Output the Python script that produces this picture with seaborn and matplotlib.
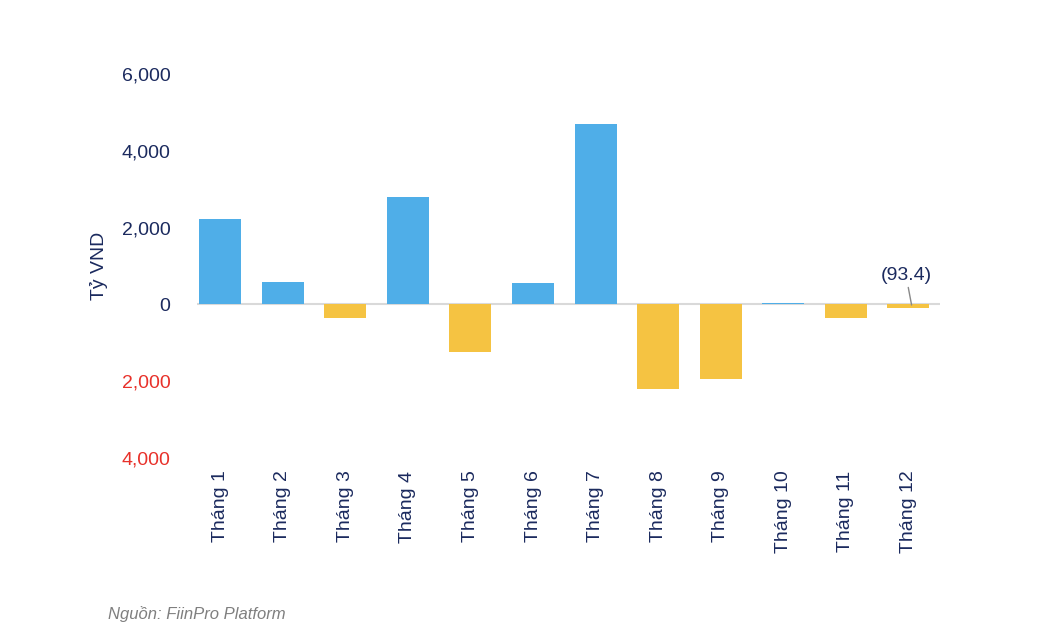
import numpy as np
import pandas as pd
import matplotlib
matplotlib.use("Agg")
import matplotlib.pyplot as plt
import seaborn as sns

# Data (Tỷ VND)
months = ["Tháng 1", "Tháng 2", "Tháng 3", "Tháng 4", "Tháng 5", "Tháng 6",
          "Tháng 7", "Tháng 8", "Tháng 9", "Tháng 10", "Tháng 11", "Tháng 12"]
values = [2220, 575, -365, 2790, -1230, 550, 4700, -2190, -1930, 40, -350, -93.4]
yticks = [-4000, -2000, 0, 2000, 4000, 6000]

navy = "#1B2A5E"
red = "#E8312A"
blue = "#4FAEE8"
yellow = "#F5C342"

sns.set_style("white")
plt.rcParams["font.family"] = ["Liberation Sans", "DejaVu Sans"]

df = pd.DataFrame({"month": months, "value": values})
colors = [blue if v >= 0 else yellow for v in values]

fig = plt.figure(figsize=(10.5, 6.3), dpi=100)
ax = fig.add_axes([0.1876, 0.273, 0.895 - 0.1876, 0.8825 - 0.273])

sns.barplot(data=df, x="month", y="value", hue="month", palette=colors,
            legend=False, width=0.67, saturation=1, linewidth=0, ax=ax, zorder=2)

ax.axhline(0, color="#D9D9D9", lw=1.5, zorder=1)
ax.set_xlim(-0.37, 11.5)
ax.set_ylim(-4000, 6000)
ax.set_yticks(yticks)
ax.set_yticklabels([f"{abs(t):,}" for t in yticks])
for lab, t in zip(ax.get_yticklabels(), yticks):
    lab.set_color(red if t < 0 else navy)

ax.tick_params(axis="y", length=0, pad=19, labelsize=14)
ax.tick_params(axis="x", length=0, pad=9, labelsize=14, labelcolor=navy)
plt.setp(ax.get_xticklabels(), rotation=90)
sns.despine(ax=ax, left=True, bottom=True)

ax.set_xlabel("")
ax.set_ylabel("Tỷ VND", fontsize=14, color=navy, labelpad=10)

# label for the last month
ax.annotate(f"({abs(values[-1])})", xy=(11.05, -15), xytext=(-4, 15),
            textcoords="offset points", ha="center", va="bottom",
            fontsize=14, color=navy,
            arrowprops=dict(arrowstyle="-", color="#888888", lw=1,
                            shrinkA=0, shrinkB=0))

fig.text(108 / 1050, 1 - 614 / 630, "Nguồn: FiinPro Platform", fontsize=12,
         style="italic", color="#7F7F7F", va="center")

fig.savefig("out.png", dpi=100)
